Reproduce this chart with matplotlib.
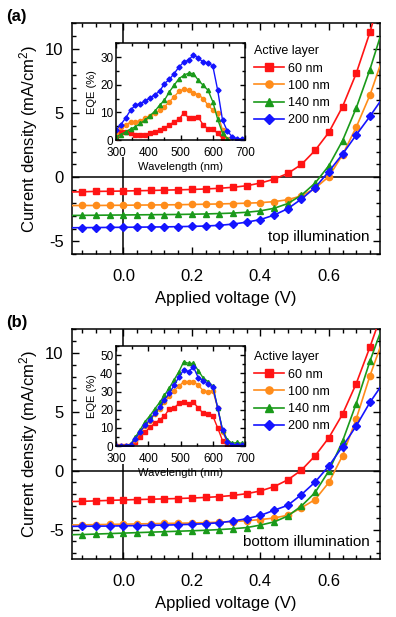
import matplotlib
matplotlib.use('Agg')
import matplotlib.pyplot as plt
from matplotlib.patches import Rectangle
from matplotlib.ticker import MultipleLocator

plt.rcParams['font.family'] = ['Liberation Sans', 'DejaVu Sans']
plt.rcParams['mathtext.default'] = 'regular'
plt.rcParams['axes.unicode_minus'] = False

# ---- datos J-V (V, mA/cm2) ----
voltaje = [-0.16, -0.12, -0.08, -0.04, 0.0, 0.04, 0.08, 0.12, 0.16, 0.20, 0.24, 0.28,
           0.32, 0.36, 0.40, 0.44, 0.48, 0.52, 0.56, 0.60, 0.64, 0.68, 0.72, 0.76]

espesores = ['60 nm', '100 nm', '140 nm', '200 nm']
colores = ['#ff1414', '#ff8c1a', '#1a9a1a', '#1414ff']
marcadores = ['s', 'o', '^', 'D']

jv_top_60 = [-1.15, -1.13, -1.10, -1.09, -1.07, -1.05, -1.03, -1.00, -0.98, -0.95, -0.91, -0.86,
             -0.78, -0.66, -0.45, -0.15, 0.30, 1.00, 2.10, 3.50, 5.50, 8.10, 11.3, 15.0]
jv_top_100 = [-2.21, -2.20, -2.20, -2.19, -2.18, -2.17, -2.16, -2.15, -2.14, -2.12, -2.10, -2.08,
              -2.05, -2.02, -1.98, -1.90, -1.75, -1.45, -0.85, 0.05, 1.75, 3.90, 6.40, 9.50]
jv_top_140 = [-2.98, -2.97, -2.96, -2.95, -2.94, -2.93, -2.92, -2.91, -2.90, -2.88, -2.86, -2.83,
              -2.79, -2.73, -2.62, -2.42, -2.05, -1.40, -0.45, 0.90, 2.85, 5.40, 8.40, 11.8]
jv_top_200 = [-3.94, -3.93, -3.92, -3.91, -3.90, -3.89, -3.88, -3.87, -3.85, -3.83, -3.80, -3.75,
              -3.65, -3.50, -3.30, -2.95, -2.45, -1.70, -0.80, 0.45, 1.80, 3.30, 4.75, 6.30]

jv_bot_60 = [-2.62, -2.60, -2.56, -2.52, -2.48, -2.45, -2.42, -2.39, -2.36, -2.32, -2.27, -2.20,
             -2.10, -1.95, -1.72, -1.35, -0.78, 0.05, 1.27, 2.80, 4.80, 7.40, 10.5, 13.8]
jv_bot_100 = [-4.61, -4.60, -4.58, -4.56, -4.54, -4.52, -4.50, -4.48, -4.46, -4.44, -4.41, -4.37,
              -4.32, -4.25, -4.15, -4.02, -3.78, -3.15, -2.45, -1.00, 1.27, 4.40, 8.05, 11.3]
jv_bot_140 = [-5.44, -5.42, -5.38, -5.34, -5.30, -5.26, -5.22, -5.18, -5.14, -5.10, -5.06, -5.00,
              -4.93, -4.83, -4.62, -4.35, -3.85, -3.00, -1.85, -0.02, 2.50, 5.70, 9.30, 12.5]
jv_bot_200 = [-4.73, -4.72, -4.71, -4.70, -4.68, -4.66, -4.64, -4.62, -4.59, -4.55, -4.50, -4.42,
              -4.27, -4.08, -3.80, -3.36, -2.94, -2.03, -0.96, 0.40, 2.05, 3.80, 5.80, 7.50]

# ---- datos EQE (nm, %) ----
longitud_onda = [300, 315, 330, 345, 360, 375, 390, 405, 420, 435, 450, 465, 480, 495,
                 510, 525, 540, 555, 570, 585, 600, 615, 630, 645, 660, 675, 690]

eqe_top_60 = [0.6, 3.0, 2.8, 2.4, 2.0, 2.0, 2.0, 2.4, 3.0, 3.6, 4.4, 5.4, 6.6, 7.5,
              9.8, 8.0, 8.0, 8.2, 5.5, 4.0, 4.0, 2.4, 0.6, 0.0]
eqe_top_100 = [2.4, 4.8, 5.6, 6.4, 6.6, 7.0, 7.8, 8.8, 9.6, 10.8, 12.0, 13.8, 15.6, 17.6,
               18.4, 18.0, 17.0, 16.4, 15.0, 12.6, 10.8, 9.6, 3.6, 0.4]
eqe_top_140 = [1.2, 2.0, 3.0, 4.0, 4.8, 6.0, 7.2, 8.8, 10.4, 12.6, 14.4, 17.4, 19.8, 22.2,
               23.4, 24.2, 24.0, 21.6, 19.8, 18.0, 13.8, 7.5, 2.5, 0.5]
eqe_top_200 = [3.6, 5.6, 8.0, 10.8, 12.6, 13.2, 14.1, 15.2, 16.4, 17.6, 20.4, 21.9, 24.0, 26.4,
               28.2, 28.9, 30.8, 29.6, 28.2, 27.9, 26.7, 18.0, 7.2, 3.2, 1.2, 0.4, 0.4]

eqe_bot_60 = [0.0, 0.0, 0.0, 0.0, 2.0, 5.0, 7.5, 10.5, 12.5, 14.5, 16.5, 20.5, 21.0, 23.5,
              24.0, 23.0, 24.0, 21.0, 18.0, 17.5, 16.5, 10.0, 3.0, 0.5, 0.0]
eqe_bot_100 = [0.3, 0.3, 0.3, 0.5, 3.5, 7.5, 11.0, 14.0, 17.5, 20.5, 24.0, 27.5, 30.5, 33.0,
               35.5, 35.5, 35.5, 33.5, 30.5, 30.0, 30.5, 21.0, 8.0, 2.0, 0.5, 0.3, 0.3]
eqe_bot_140 = [0.3, 0.3, 0.3, 1.0, 5.0, 9.0, 13.5, 16.7, 20.5, 24.0, 28.0, 32.0, 36.5, 41.0,
               46.5, 45.5, 45.5, 41.5, 37.5, 35.5, 33.0, 21.0, 9.0, 3.5, 1.5, 2.0, 1.5]
eqe_bot_200 = [0.3, 0.3, 0.3, 0.8, 4.0, 8.0, 11.5, 14.5, 18.0, 21.5, 25.5, 29.0, 33.5, 38.0,
               42.0, 41.0, 43.5, 37.5, 36.0, 34.0, 32.4, 21.0, 8.7, 2.4, 0.8, 0.5, 0.5]


def estilo_ejes(ax, fs, largo, pad_x, pad_y):
    ax.tick_params(which='both', direction='in', top=True, right=True, labelsize=fs)
    ax.tick_params(which='major', length=largo, width=1.0)
    ax.tick_params(which='minor', length=largo * 0.55, width=1.0)
    ax.tick_params(axis='x', pad=pad_x)
    ax.tick_params(axis='y', pad=pad_y)
    for s in ax.spines.values():
        s.set_linewidth(1.1)


def panel_jv(ax, curvas, ymin, texto, letra):
    """Curvas J-V con líneas de cero, leyenda y texto de iluminación."""
    for vals, col, mk, lab in zip(curvas, colores, marcadores, espesores):
        ms = 4.0 if mk == 'D' else 4.5
        ax.plot(voltaje, vals, color=col, marker=mk, ms=ms, lw=1.2,
                markevery=slice(1, -1), label=lab, zorder=3)
    ax.axhline(0, color='black', lw=1.1, zorder=2)
    ax.axvline(0, color='black', lw=1.1, zorder=2)
    ax.set_xlim(-0.15, 0.75)
    ax.set_ylim(ymin, 12)
    ax.xaxis.set_major_locator(MultipleLocator(0.2))
    ax.xaxis.set_minor_locator(MultipleLocator(0.04))
    ax.yaxis.set_major_locator(MultipleLocator(5))
    ax.yaxis.set_minor_locator(MultipleLocator(1))
    ax.xaxis.set_major_formatter(lambda x, p: f'{x:.1f}')
    estilo_ejes(ax, 12, 5, 11, 6)
    ax.set_xlabel('Applied voltage (V)', fontsize=12, labelpad=5)
    ax.set_ylabel('Current density (mA/cm$^2$)', fontsize=12, labelpad=4)
    ax.text(0.965, 0.075, texto, transform=ax.transAxes, fontsize=11,
            ha='right', va='center')
    ax.legend(loc='upper left', bbox_to_anchor=(0.59, 0.905), frameon=False,
              fontsize=9, title='Active layer', title_fontsize=9, alignment='left',
              handlelength=2.4, handletextpad=0.3, labelspacing=0.42,
              borderpad=0, borderaxespad=0, markerscale=1.15)
    ax.text(-0.215, 1.03, letra, transform=ax.transAxes, fontsize=12,
            fontweight='bold', ha='left', va='center')


def inset_eqe(ax, curvas, ymax):
    """Recuadro con las curvas EQE."""
    ax.add_patch(Rectangle((-0.2, -0.18), 1.2, 1.18, transform=ax.transAxes,
                           facecolor='white', edgecolor='none', clip_on=False, zorder=0))
    for vals, col, mk in zip(curvas, colores, marcadores):
        ms = 2.6 if mk == 'D' else 3.0
        ax.plot(longitud_onda[:len(vals)], vals, color=col, marker=mk, ms=ms, lw=1.0)
    ax.set_xlim(300, 700)
    ax.set_ylim(0, ymax)
    ax.xaxis.set_major_locator(MultipleLocator(100))
    ax.xaxis.set_minor_locator(MultipleLocator(50))
    ax.yaxis.set_major_locator(MultipleLocator(10))
    ax.yaxis.set_minor_locator(MultipleLocator(5))
    estilo_ejes(ax, 8.5, 3.5, 5, 2)
    ax.set_xlabel('Wavelength (nm)', fontsize=8, labelpad=2)
    ax.set_ylabel('EQE (%)', fontsize=8, labelpad=2)


fig = plt.figure(figsize=(3.96, 6.17), dpi=100)

ax_a = fig.add_axes([0.182, 0.588, 0.778, 0.374])
panel_jv(ax_a, [jv_top_60, jv_top_100, jv_top_140, jv_top_200], -6,
         'top illumination', '(a)')
in_a = fig.add_axes([0.293, 0.773, 0.326, 0.157])
inset_eqe(in_a, [eqe_top_60, eqe_top_100, eqe_top_140, eqe_top_200], 35)

ax_b = fig.add_axes([0.182, 0.094, 0.778, 0.372])
panel_jv(ax_b, [jv_bot_60, jv_bot_100, jv_bot_140, jv_bot_200], -7.5,
         'bottom illumination', '(b)')
in_b = fig.add_axes([0.293, 0.277, 0.326, 0.162])
inset_eqe(in_b, [eqe_bot_60, eqe_bot_100, eqe_bot_140, eqe_bot_200], 55)

fig.savefig('out.png', dpi=100)
